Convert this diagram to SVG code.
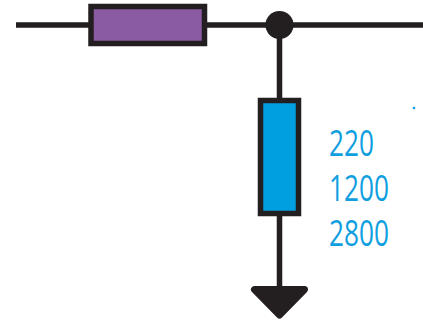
<svg xmlns="http://www.w3.org/2000/svg" width="423" height="323" viewBox="0 0 423 323">
<style>
.w{fill:none;stroke:#231f20;stroke-width:5.500}
.b{stroke:#231f20;stroke-width:5.500}
.t{font-family:"Open Sans","Noto Sans",sans-serif;font-size:36px;fill:#0f9fe0}
</style>
<rect width="423" height="323" fill="#fff"/>
<g id="connectors">
<path class="w" d="M16 25H423M279.500 25V290"/>
</g>
<g id="resistor-top"><rect class="b" x="91" y="6.500" width="113.500" height="37" fill="#8a5aa3"/></g>
<g id="junction"><circle cx="279.500" cy="25" r="14" fill="#231f20"/></g>
<g id="resistor-shunt"><rect class="b" x="260.500" y="100.500" width="38" height="113" fill="#00a0e0"/></g>
<g id="ground"><path d="M254.500 289.500H304.500L279.500 315Z" fill="#231f20" stroke="#231f20" stroke-width="7" stroke-linejoin="round"/></g>
<g id="labels">
<text class="t" x="329" y="156" textLength="45" lengthAdjust="spacingAndGlyphs">220</text>
<text class="t" x="329" y="201" textLength="60" lengthAdjust="spacingAndGlyphs">1200</text>
<text class="t" x="329" y="246" textLength="60" lengthAdjust="spacingAndGlyphs">2800</text>
<circle cx="414" cy="108" r="1.300" fill="#0f9fe0"/>
</g>
</svg>
